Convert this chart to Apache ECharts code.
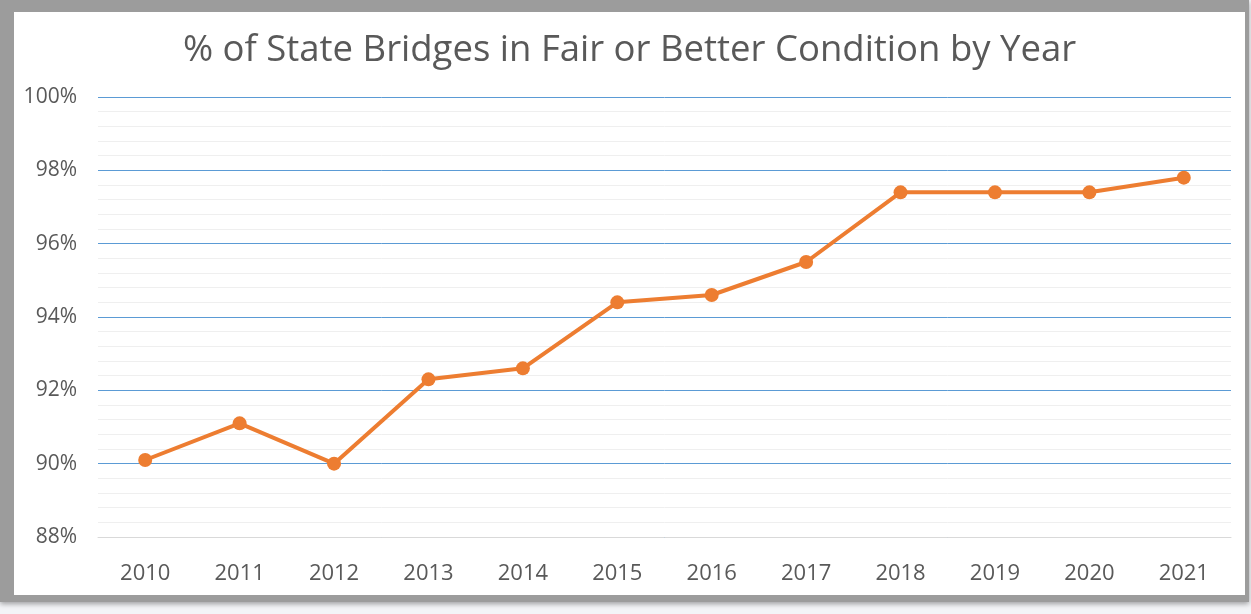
<!DOCTYPE html>
<html>
<head>
<meta charset="utf-8">
<script src="https://cdn.jsdelivr.net/npm/echarts@6/dist/echarts.min.js"></script>
<style>
  body { margin: 0; background: #f3f4f7; overflow: hidden; }
  #frame { position: absolute; left: 0; top: 0; width: 1249px; height: 602px; background: #9c9c9c; box-shadow: 0 2px 5px rgba(0,0,0,0.35); }
  #chart { position: absolute; left: 14px; top: 12px; width: 1231px; height: 583px; background: #fff; }
</style>
</head>
<body>
<div id="frame"></div>
<div id="chart"></div>
<script>
// 年份
var years = ['2010', '2011', '2012', '2013', '2014', '2015', '2016', '2017', '2018', '2019', '2020', '2021'];
// 状况良好及以上的比例 (%)
var fairOrBetter = [90.1, 91.1, 90.0, 92.3, 92.6, 94.4, 94.6, 95.5, 97.4, 97.4, 97.4, 97.8];
// y轴范围
var yMin = 88, yMax = 100, yStep = 2;

var chart = echarts.init(document.getElementById('chart'));

var option = {
  animation: false,
  title: {
    text: '% of State Bridges in Fair or Better Condition by Year',
    left: 'center',
    top: 15,
    textStyle: {
      fontFamily: 'Open Sans',
      fontWeight: 'normal',
      fontSize: 36.5,
      color: '#595959'
    }
  },
  grid: {
    left: 84,
    right: 14,
    top: 85,
    bottom: 58
  },
  xAxis: {
    type: 'category',
    data: years,
    boundaryGap: true,
    axisLine: { lineStyle: { color: '#d9d9d9', width: 1 } },
    axisTick: { show: false },
    axisLabel: {
      margin: 26,
      fontFamily: 'Open Sans',
      fontSize: 22,
      color: '#595959'
    }
  },
  yAxis: {
    type: 'value',
    min: yMin,
    max: yMax,
    interval: yStep,
    axisLine: { show: false },
    axisTick: { show: false },
    axisLabel: {
      margin: 21,
      formatter: '{value}%',
      fontFamily: 'Open Sans',
      fontSize: 21,
      color: '#595959'
    },
    splitLine: { lineStyle: { color: '#5b9bd5', width: 1 } },
    minorTick: { show: false, splitNumber: 5 },
    minorSplitLine: { show: true, lineStyle: { color: '#efefef', width: 1 } }
  },
  series: [{
    type: 'line',
    data: fairOrBetter,
    symbol: 'circle',
    symbolSize: 14,
    lineStyle: { color: '#ed7d31', width: 4 },
    itemStyle: { color: '#ed7d31' }
  }]
};

chart.setOption(option);
</script>
</body>
</html>
